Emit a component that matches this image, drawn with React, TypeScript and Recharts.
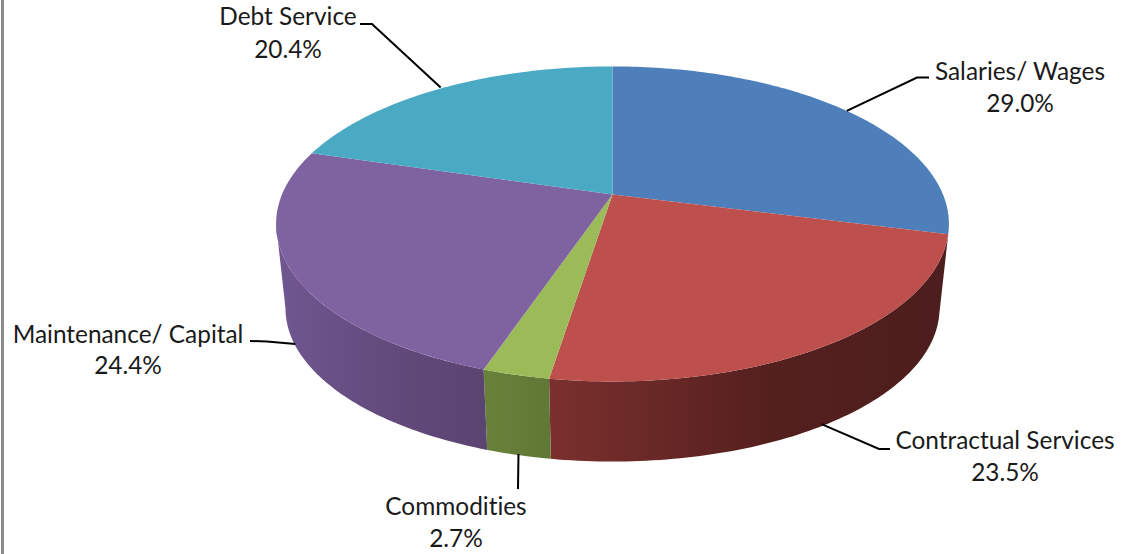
import React from 'react'
import { Pie, PieChart } from 'recharts'

const categories = ['Salaries/ Wages', 'Contractual Services', 'Commodities', 'Maintenance/ Capital', 'Debt Service']
const shares = [29.0, 23.5, 2.7, 24.4, 20.4]
const topColors = ['#4e7fbb', '#bd4f4c', '#9bbb59', '#7f62a0', '#4aa9c3']

// [left, middle, right] shades for the rim of each slice; back slices have no visible rim
const wallShades: (string[] | null)[] = [
  null,
  ['#7b302e', '#54201e', '#4c1e1d'],
  ['#69823a', '#647c38', '#607735'],
  ['#705790', '#624a7c', '#5a4470'],
  null,
]

// text block centre, first and second baseline, then the leader's bend points
const labelLayout = [
  { x: 1020, y1: 80, y2: 112, bends: [[929, 77.5], [917, 77.5]], nudge: [0, 0], plane: 'top' },
  { x: 1005, y1: 449, y2: 481, bends: [[890, 449], [879, 449]], nudge: [0, -2], plane: 'bottom' },
  { x: 456, y1: 515, y2: 547, bends: [[518, 489]], nudge: [0, -1], plane: 'bottom' },
  { x: 128, y1: 343, y2: 374, bends: [[250, 341], [267, 341.5]], nudge: [-5, -10], plane: 'bottom' },
  { x: 288, y1: 25, y2: 58, bends: [[360, 24], [372, 24]], nudge: [0, -1], plane: 'top' },
]

const chartData = categories.map((name, i) => ({ name, value: shares[i], fill: topColors[i], index: i }))

const TILT = 0.46
const PERSPECTIVE = 0.187
const BOTTOM_SCALE = 0.972
const DEPTH = 85.3
const WALL_FROM = 100.8
const WALL_TO = 259.2

type Plane = 'top' | 'bottom'

// library angle (degrees, counter-clockwise from 3 o'clock) to a point on the tilted disc
const project = (angle: number, radius: number, cx: number, cy: number, plane: Plane = 'top') => {
  const rad = (angle * Math.PI) / 180
  const u = Math.cos(rad)
  const v = Math.sin(rad)
  const s = 1 / (1 + PERSPECTIVE * v)
  const k = plane === 'top' ? 1 : BOTTOM_SCALE
  const y0 = plane === 'top' ? cy : cy + DEPTH
  return [cx + radius * k * u * s, y0 - radius * k * TILT * v * s]
}

const arcPoints = (from: number, to: number, radius: number, cx: number, cy: number, plane: Plane) => {
  const steps = Math.max(2, Math.ceil(Math.abs(to - from)))
  const pts: number[][] = []
  for (let i = 0; i <= steps; i++) {
    pts.push(project(from + ((to - from) * i) / steps, radius, cx, cy, plane))
  }
  return pts
}

const toPath = (pts: number[][]) => 'M' + pts.map((p) => `${p[0].toFixed(2)},${p[1].toFixed(2)}`).join('L') + 'Z'

const TiltedSlice = (props: any) => {
  const { cx, cy, outerRadius, startAngle, endAngle, fill, payload } = props
  const index = payload?.index ?? props.index
  const shades = wallShades[index]

  const top = [[cx, cy], ...arcPoints(startAngle, endAngle, outerRadius, cx, cy, 'top')]

  let wall = null
  if (shades) {
    // clock-style angles make the front range easy to intersect
    const c1 = Math.max(90 - startAngle, WALL_FROM)
    const c2 = Math.min(90 - endAngle, WALL_TO)
    if (c2 > c1) {
      const upper = arcPoints(90 - c1, 90 - c2, outerRadius, cx, cy, 'top')
      const lower = arcPoints(90 - c2, 90 - c1, outerRadius, cx, cy, 'bottom')
      const xs = [...upper, ...lower].map((p) => p[0])
      const id = `wall-${index}`
      wall = (
        <>
          <defs>
            <linearGradient id={id} gradientUnits="userSpaceOnUse" x1={Math.min(...xs)} x2={Math.max(...xs)} y1={0} y2={0}>
              <stop offset="0%" stopColor={shades[0]} />
              <stop offset="55%" stopColor={shades[1]} />
              <stop offset="100%" stopColor={shades[2]} />
            </linearGradient>
          </defs>
          <path d={toPath([...upper, ...lower])} fill={`url(#${id})`} />
        </>
      )
    }
  }

  return (
    <g>
      {wall}
      <path d={toPath(top)} fill={fill} />
    </g>
  )
}

const labelText = { textAnchor: 'middle', fontSize: 24.4, fontFamily: 'Lato', fill: '#1a1a1a', style: { fontVariantLigatures: 'none' } } as const

const SliceLabel = (props: any) => {
  const { cx, cy, outerRadius, midAngle, name, value, index } = props
  const spot = labelLayout[index]
  const end = project(midAngle, outerRadius, cx, cy, spot.plane as Plane)
  const pts = [...spot.bends, [end[0] + spot.nudge[0], end[1] + spot.nudge[1]]]
  return (
    <g>
      <polyline points={pts.map((p) => p.join(',')).join(' ')} fill="none" stroke="#000" strokeWidth={2} />
      <text x={spot.x} y={spot.y1} {...labelText}>
        {name}
      </text>
      <text x={spot.x} y={spot.y2} {...labelText}>
        {`${Number(value).toFixed(1)}%`}
      </text>
    </g>
  )
}

export default function App() {
  return (
    <div style={{ position: 'absolute', left: 0, top: 0, width: 1124, height: 554, overflow: 'hidden', background: '#fff' }}>
      <div style={{ position: 'absolute', left: 1, top: 0, width: 2.5, height: 554, background: '#8c8c8c' }} />
      <PieChart width={1124} height={554} margin={{ top: 0, right: 0, bottom: 0, left: 0 }}>
        <Pie
          data={chartData}
          dataKey="value"
          nameKey="name"
          cx={612.5}
          cy={194.5}
          innerRadius={0}
          outerRadius={330.5}
          startAngle={90}
          endAngle={-270}
          stroke="none"
          shape={TiltedSlice}
          label={SliceLabel}
          labelLine={false}
          isAnimationActive={false}
        />
      </PieChart>
    </div>
  )
}
